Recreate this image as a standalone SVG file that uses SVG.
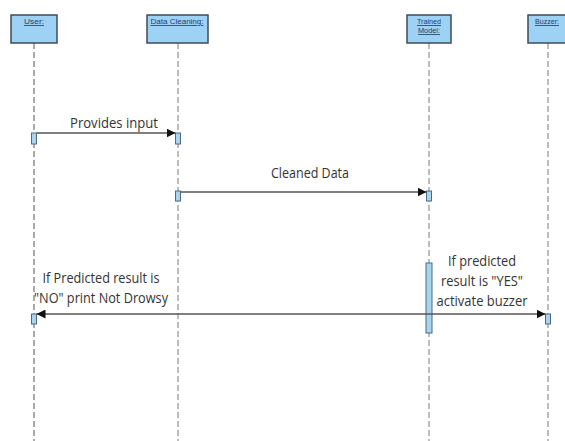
<svg xmlns="http://www.w3.org/2000/svg" width="565" height="441" viewBox="0 0 565 441">
<style>
.box{fill:#9dd2f4;stroke:#3f4b57;stroke-width:1.5}
.hdr{font-family:"Liberation Sans",Arial,sans-serif;font-size:8px;fill:#1d3a6b;text-decoration:underline;text-anchor:middle}
.life{stroke:#7a7a7a;stroke-width:1;stroke-dasharray:6,3;fill:none}
.act{fill:#a9d4ee;stroke:#4a6a86;stroke-width:1}
.msg{stroke:#555;stroke-width:1.3;fill:none}
.lbl{font-family:"Open Sans","DejaVu Sans",sans-serif;font-size:15px;fill:#333;text-anchor:middle}
</style>
<defs>
<marker id="ah" viewBox="0 0 10 10" refX="10" refY="5" markerWidth="9" markerHeight="9" markerUnits="userSpaceOnUse" orient="auto-start-reverse">
<path d="M0,0 L10,5 L0,10 Z" fill="#111"/>
</marker>
</defs>
<g id="lifelines">
<line class="life" x1="34" y1="43" x2="34" y2="441" style="stroke:#555"/>
<line class="life" x1="178" y1="43" x2="178" y2="441"/>
<line class="life" x1="429" y1="43" x2="429" y2="441"/>
<line class="life" x1="548" y1="43" x2="548" y2="441"/>
</g>
<g id="user"><rect class="box" x="11" y="15" width="46" height="28"/><text class="hdr" x="34" y="24" textLength="20" lengthAdjust="spacingAndGlyphs">User:</text></g>
<g id="data-cleaning"><rect class="box" x="147" y="15" width="61" height="28"/><text class="hdr" x="177" y="24" textLength="53" lengthAdjust="spacingAndGlyphs">Data Cleaning:</text></g>
<g id="trained-model"><rect class="box" x="407" y="15" width="44" height="28"/><text class="hdr" x="429" y="24" textLength="24" lengthAdjust="spacingAndGlyphs">Trained</text><text class="hdr" x="429" y="33" textLength="22" lengthAdjust="spacingAndGlyphs">Model:</text></g>
<g id="buzzer"><rect class="box" x="528" y="15" width="40" height="28"/><text class="hdr" x="547" y="24" textLength="24" lengthAdjust="spacingAndGlyphs">Buzzer:</text></g>
<g id="activations">
<rect class="act" x="31.5" y="133" width="5" height="11"/>
<rect class="act" x="175.5" y="133" width="5" height="11"/>
<rect class="act" x="175.5" y="191" width="5" height="10"/>
<rect class="act" x="426.5" y="191" width="5" height="10"/>
<rect class="act" x="426" y="263" width="6" height="70"/>
<rect class="act" x="31.5" y="314" width="5" height="10"/>
<rect class="act" x="545.5" y="314" width="5" height="10"/>
</g>
<g id="connectors">
<line class="msg" x1="36.5" y1="133" x2="175.5" y2="133" marker-end="url(#ah)"/>
<line class="msg" x1="180.5" y1="192" x2="426.5" y2="192" marker-end="url(#ah)"/>
<line class="msg" x1="36.5" y1="314" x2="545.5" y2="314" marker-start="url(#ah)" marker-end="url(#ah)"/>
</g>
<g id="labels">
<text class="lbl" x="114" y="128" textLength="88" lengthAdjust="spacingAndGlyphs">Provides input</text>
<text class="lbl" x="310" y="178" textLength="78" lengthAdjust="spacingAndGlyphs">Cleaned Data</text>
<text class="lbl" x="101" y="283" textLength="117" lengthAdjust="spacingAndGlyphs">If Predicted result is</text>
<text class="lbl" x="101" y="303" textLength="134" lengthAdjust="spacingAndGlyphs">"NO" print Not Drowsy</text>
<text class="lbl" x="482" y="266" textLength="68" lengthAdjust="spacingAndGlyphs">If predicted</text>
<text class="lbl" x="482" y="286" textLength="82" lengthAdjust="spacingAndGlyphs">result is "YES"</text>
<text class="lbl" x="482" y="306" textLength="91" lengthAdjust="spacingAndGlyphs">activate buzzer</text>
</g>
</svg>
